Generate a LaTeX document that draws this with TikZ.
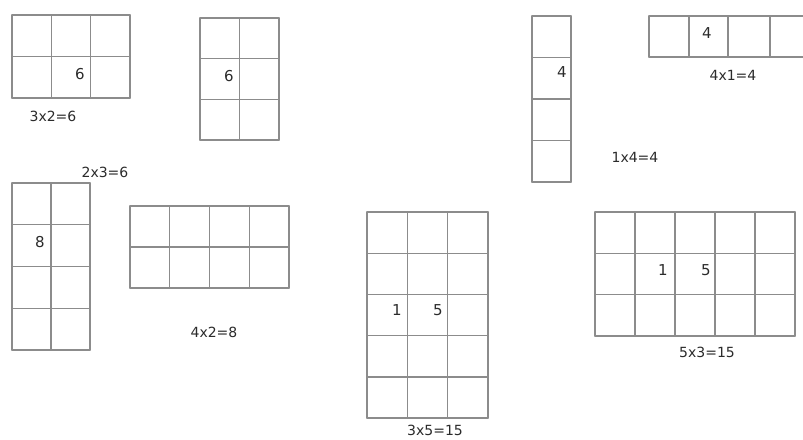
\documentclass[tikz,border=0pt]{standalone}
\usepackage{fontspec}
\setmainfont{DejaVu Sans}
\usepackage{xcolor}
\usepackage{tikz}
\definecolor{tileline}{HTML}{8C8C8C}
\definecolor{ink}{HTML}{2B2B2B}

% left, top, cell width, cell height, cols, rows
\newcommand{\tiles}[6]{%
  \foreach \i in {0,...,#5} \draw[tile] ({#1+\i*#3},#2) -- ++(0,{#4*#6});
  \foreach \j in {0,...,#6} \draw[tile] (#1,{#2+\j*#4}) -- ++({#3*#5},0);
}

\begin{document}
\begin{tikzpicture}[
    x=1pt, y=-1pt,
    tile/.style={draw=tileline, line width=1.4pt, line cap=round},
    num/.style={font=\fontsize{15}{15}\selectfont, text=ink, inner sep=0pt},
    eq/.style={font=\fontsize{14}{14}\selectfont, text=ink, inner sep=0pt}
]
    \useasboundingbox[fill=white] (0,0) rectangle (803,439);

    % upper left
    \tiles{12}{15}{39.33}{41.5}{3}{2}
    \node[num] (six1) at (80,74) {6};
    \node[eq] (eq32) at (53,116) {3x2=6};

    \tiles{200}{18}{39.5}{40.67}{2}{3}
    \node[num] (six2) at (229,76) {6};
    \node[eq] (eq23) at (105,172) {2x3=6};

    % lower left
    \tiles{12}{183}{39}{41.75}{2}{4}
    \node[num] (eight1) at (40,242) {8};

    \tiles{130}{206}{39.75}{41}{4}{2}
    \node[eq] (eq42) at (214,332) {4x2=8};

    % middle
    \tiles{367}{212}{40.33}{41.2}{3}{5}
    \node[num] (one1) at (397,310) {1};
    \node[num] (five1) at (438,310) {5};
    \node[eq] (eq35) at (435,430) {3x5=15};

    % upper right
    \tiles{532}{16}{39}{41.5}{1}{4}
    \node[num] (four1) at (562,72) {4};
    \node[eq] (eq14) at (635,157) {1x4=4};

    \foreach \i in {649,689,728,770} \draw[tile] (\i,16) -- (\i,57);
    \draw[tile] (649,16) -- (803,16);
    \draw[tile] (649,57) -- (803,57);
    \node[num] (four2) at (707,33) {4};
    \node[eq] (eq41) at (733,75) {4x1=4};

    % lower right
    \tiles{595}{212}{40}{41.33}{5}{3}
    \node[num] (one2) at (663,270) {1};
    \node[num] (five2) at (706,270) {5};
    \node[eq] (eq53) at (707,352) {5x3=15};
\end{tikzpicture}
\end{document}
